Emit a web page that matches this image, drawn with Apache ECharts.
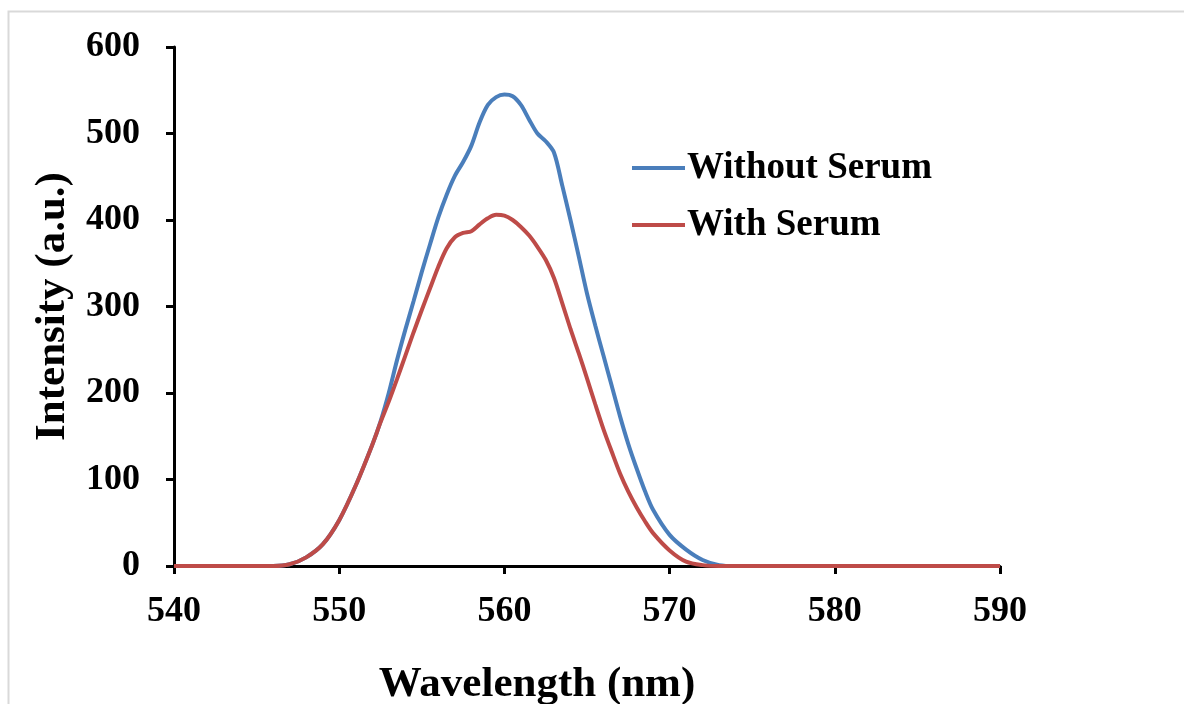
<!DOCTYPE html>
<html>
<head>
<meta charset="utf-8">
<script src="https://cdn.jsdelivr.net/npm/echarts@6/dist/echarts.min.js"></script>
<style>
html,body{margin:0;padding:0;background:#fff;}
#chart{width:1184px;height:704px;}
</style>
</head>
<body>
<div id="chart"></div>
<script>
var wavelengths = [540, 545, 546, 547, 548, 549, 550, 551, 552, 552.5, 553, 553.5, 554, 554.5, 555, 555.5, 556, 556.5, 557, 557.5, 558, 558.5, 559, 559.5, 560, 560.5, 561, 561.5, 562, 562.5, 563, 563.5, 564, 564.5, 565, 565.5, 566, 566.5, 567, 567.5, 568, 568.5, 569, 570, 571, 572, 573, 574, 575, 580, 585, 590];
var withoutSerum = [0, 0, 0, 2, 10, 25, 53, 93, 140, 167, 200, 238, 273, 306, 340, 372, 403, 429, 451, 467, 486, 513, 533, 542, 545, 543, 533, 516, 500, 491, 478, 440, 400, 358, 315, 278, 243, 208, 173, 141, 113, 87, 65, 36, 19, 7, 1, 0, 0, 0, 0, 0];
var withSerum = [0, 0, 0, 2, 10, 25, 53, 93, 140, 166, 190, 216, 243, 270, 296, 321, 346, 367, 380, 385, 387, 395, 402, 406, 405, 400, 392, 382, 369, 354, 333, 304, 274, 246, 217, 187, 158, 132, 107, 86, 68, 52, 38, 18, 5, 1, 0, 0, 0, 0, 0, 0];
var xTicks = [540, 550, 560, 570, 580, 590];
var yTicks = [0, 100, 200, 300, 400, 500, 600];

function pairs(xs, ys) { return xs.map(function (x, i) { return [x, ys[i]]; }); }

var FONT = '"Liberation Serif", "Times New Roman", serif';
var chart = echarts.init(document.getElementById('chart'), null, {renderer: 'canvas'});
chart.setOption({
  animation: false,
  backgroundColor: '#ffffff',
  graphic: [{
    type: 'polyline',
    shape: {points: [[8.5, 704], [8.5, 11.5], [1184, 11.5]]},
    style: {stroke: '#d9d9d9', lineWidth: 2, fill: null},
    silent: true
  }],
  grid: {left: 174, right: 184, top: 47, bottom: 138, containLabel: false, outerBoundsMode: 'none'},
  legend: {
    orient: 'vertical',
    left: 627,
    top: 143,
    icon: 'rect',
    itemWidth: 53,
    itemHeight: 4,
    itemGap: 17,
    data: ['Without Serum', 'With Serum'],
    textStyle: {fontFamily: FONT, fontWeight: 'bold', fontSize: 37, color: '#000', padding: [0, 0, 0, -3], lineHeight: 40}
  },
  xAxis: {
    type: 'value',
    min: xTicks[0], max: xTicks[xTicks.length - 1], interval: 10,
    name: 'Wavelength (nm)',
    nameLocation: 'middle',
    nameGap: 97,
    nameTextStyle: {fontFamily: FONT, fontWeight: 'bold', fontSize: 43, color: '#000', verticalAlign: 'top', padding: [0, 100, 0, 0]},
    axisLine: {show: true, onZero: false, lineStyle: {color: '#000', width: 3}},
    axisTick: {show: true, inside: false, length: 8, lineStyle: {color: '#000', width: 3}},
    axisLabel: {fontFamily: FONT, fontWeight: 'bold', fontSize: 36, color: '#000', margin: 28},
    splitLine: {show: false}
  },
  yAxis: {
    type: 'value',
    min: yTicks[0], max: yTicks[yTicks.length - 1], interval: 100,
    name: 'Intensity (a.u.)',
    nameLocation: 'middle',
    nameGap: 100,
    nameRotate: 90,
    nameTextStyle: {fontFamily: FONT, fontWeight: 'bold', fontSize: 43, color: '#000'},
    axisLine: {show: true, lineStyle: {color: '#000', width: 3}},
    axisTick: {show: true, inside: false, length: 8, lineStyle: {color: '#000', width: 3}},
    axisLabel: {fontFamily: FONT, fontWeight: 'bold', fontSize: 36, color: '#000', margin: 34},
    splitLine: {show: false}
  },
  series: [{
    name: 'Without Serum',
    type: 'line',
    data: pairs(wavelengths, withoutSerum),
    smooth: 0.3,
    symbol: 'none',
    color: '#4A7EBB',
    lineStyle: {color: '#4A7EBB', width: 4},
    z: 3
  }, {
    name: 'With Serum',
    type: 'line',
    data: pairs(wavelengths, withSerum),
    smooth: 0.3,
    symbol: 'none',
    color: '#BE4B48',
    lineStyle: {color: '#BE4B48', width: 4},
    z: 4
  }]
});
</script>
</body>
</html>
